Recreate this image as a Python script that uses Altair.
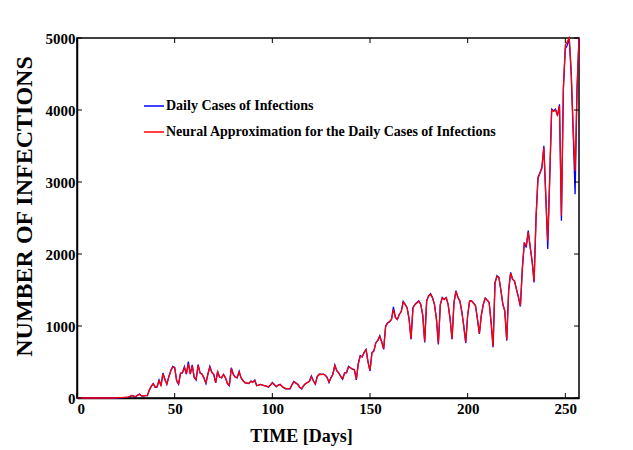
import altair as alt
import pandas as pd

series_names = ["Daily Cases of Infections",
                "Neural Approximation for the Daily Cases of Infections"]
series_colors = ["#0000ff", "#ff0000"]

x_ticks = [0, 50, 100, 150, 200, 250]
y_ticks = [0, 1000, 2000, 3000, 4000, 5000]

actual = [
    0, 0, 0, 0, 0, 0, 0, 0, 0, 0,
    0, 0, 0, 0, 0, 0, 0, 0, 0, 0,
    0, 2, 3, 5, 4, 8, 10,
    20, 35, 25, 15, 40, 55, 30, 25, 35, 30,
    110, 160, 200, 147, 150, 250, 170, 347, 260, 190,
    296, 380, 440, 425, 240, 190, 347, 350, 435, 330,
    504, 330, 460, 285, 250, 465, 350, 330, 280, 200,
    330, 440, 360, 330, 210, 370, 290, 280, 330, 280,
    200, 170, 420, 330, 290, 280, 370, 280, 240, 210,
    205, 200, 235, 220, 250, 170, 180, 190, 180, 170,
    160, 150, 180, 215, 190, 155, 180, 190, 160, 140,
    125, 130, 125, 180, 230, 210, 190, 150, 125, 170,
    200, 215, 235, 305, 240, 190, 300, 330, 330, 330,
    320, 290, 215, 280, 330, 460, 380, 350, 300, 260,
    350, 350, 440, 420, 400, 395, 250, 480, 590, 570,
    635, 675, 500, 375, 630, 655, 770, 800, 865, 780,
    675, 1000, 1045, 1060, 1090, 1265, 1120, 1090, 1160, 1200,
    1340, 1300, 1255, 1100, 815, 1255, 1300, 1325, 1350, 1300,
    1150, 770, 1350, 1420, 1450, 1395, 1300, 1100, 745, 1300,
    1395, 1370, 1395, 1300, 1100, 815, 1325, 1490, 1400, 1350,
    1200, 1000, 760, 1150, 1350, 1350, 1320, 1285, 1100, 890,
    1150, 1300, 1390, 1360, 1330, 1050, 705, 1600, 1700, 1675,
    1500, 1305, 1210, 795, 1500, 1745, 1650, 1625, 1510, 1400,
    1270, 1800, 2160, 2090, 2325, 2100, 1900, 1605, 2500, 3064,
    3130, 3200, 3504, 2800, 2070, 3050, 4013, 3990, 4013, 3920,
    4080, 2463, 4300, 4850, 4900, 5000, 4500, 3700, 2830, 4300, 5000,
]

neural = [
    0, 0, 0, 0, 0, 0, 0, 0, 0, 0,
    0, 0, 0, 0, 0, 0, 0, 0, 0, 0,
    3, 5, 4, 6, 8, 10, 12,
    22, 33, 27, 20, 38, 50, 32, 28, 33, 35,
    105, 165, 195, 150, 160, 240, 175, 335, 255, 195,
    290, 375, 430, 420, 245, 200, 340, 355, 425, 335,
    470, 335, 450, 290, 260, 455, 345, 330, 275, 210,
    330, 430, 355, 325, 215, 365, 290, 285, 325, 280,
    205, 180, 410, 330, 290, 285, 360, 280, 240, 215,
    205, 205, 230, 220, 245, 175, 180, 190, 180, 170,
    165, 155, 180, 210, 185, 160, 180, 185, 160, 145,
    130, 130, 130, 180, 225, 205, 190, 150, 130, 170,
    200, 215, 230, 295, 240, 195, 295, 330, 325, 330,
    320, 285, 220, 280, 330, 450, 375, 345, 300, 270,
    345, 355, 430, 420, 400, 390, 260, 470, 580, 575,
    630, 670, 500, 385, 625, 655, 765, 800, 855, 780,
    685, 990, 1040, 1060, 1090, 1230, 1120, 1095, 1160, 1200,
    1330, 1300, 1250, 1100, 825, 1250, 1300, 1320, 1345, 1300,
    1150, 785, 1345, 1415, 1440, 1390, 1300, 1100, 760, 1295,
    1390, 1370, 1390, 1300, 1100, 825, 1320, 1480, 1400, 1345,
    1200, 1000, 775, 1150, 1345, 1350, 1315, 1280, 1100, 900,
    1150, 1300, 1385, 1360, 1325, 1050, 720, 1600, 1690, 1670,
    1500, 1300, 1210, 810, 1500, 1735, 1650, 1620, 1505, 1400,
    1280, 1800, 2150, 2120, 2300, 2100, 1900, 1620, 2500, 3050,
    3120, 3190, 3480, 2800, 2185, 3050, 4000, 3980, 4000, 3930,
    4060, 2532, 4300, 4900, 4950, 5000, 4550, 3750, 3150, 4300, 5000,
]

days = list(range(len(actual)))
n = len(days)

df = pd.DataFrame({
    "day": days + days,
    "cases": actual + neural,
    "series": [series_names[0]] * n + [series_names[1]] * n,
})
xt_df = pd.DataFrame({"day": x_ticks})
yt_df = pd.DataFrame({"cases": y_ticks})

FONT = "Liberation Serif"
W, H = 502, 360

x_enc = alt.X("day:Q",
              scale=alt.Scale(domain=[0, 257], nice=False, zero=False),
              axis=alt.Axis(values=x_ticks, title="TIME [Days]", grid=False,
                            format="d",
                            ticks=False, labelPadding=3, labelFontSize=15,
                            titleFontSize=18, titleX=224, titleY=38,
                            titleBaseline="middle", titleAlign="center"))
y_enc = alt.Y("cases:Q",
              scale=alt.Scale(domain=[0, 5000], nice=False),
              axis=alt.Axis(values=y_ticks, title="NUMBER OF INFECTIONS",
                            grid=False, ticks=False, labelPadding=2,
                            format="d",
                            labelFontSize=15, titleFontSize=24,
                            titleX=-53, titleY=168, titleAngle=-90,
                            titleBaseline="middle", titleAlign="center"))
color_enc = alt.Color(
    "series:N",
    scale=alt.Scale(domain=series_names, range=series_colors),
    legend=alt.Legend(title=None, orient="none", legendX=66, legendY=57,
                      symbolType="stroke", symbolSize=400,
                      symbolStrokeWidth=1.5, labelFont=FONT,
                      labelFontWeight="bold", labelFontSize=14,
                      labelColor="black", rowPadding=8, labelOffset=1,
                      labelLimit=600, direction="vertical"))

base = alt.Chart(df)
blue = base.transform_filter(alt.datum.series == series_names[0]).mark_line(
    strokeWidth=1.3).encode(x=x_enc, y=y_enc, color=color_enc)
red = base.transform_filter(alt.datum.series == series_names[1]).mark_line(
    strokeWidth=1.3).encode(x=x_enc, y=y_enc, color=color_enc)

tick_bottom = alt.Chart(xt_df).mark_rule(color="black", strokeWidth=1).encode(
    x=x_enc, y=alt.value(H), y2=alt.value(H - 5))
tick_top = alt.Chart(xt_df).mark_rule(color="black", strokeWidth=1).encode(
    x=x_enc, y=alt.value(0), y2=alt.value(5))
tick_left = alt.Chart(yt_df).mark_rule(color="black", strokeWidth=1).encode(
    y=y_enc, x=alt.value(0), x2=alt.value(5))
tick_right = alt.Chart(yt_df).mark_rule(color="black", strokeWidth=1).encode(
    y=y_enc, x=alt.value(W), x2=alt.value(W - 5))

chart = alt.layer(blue, red, tick_bottom, tick_top, tick_left, tick_right).properties(
    width=W, height=H,
    padding={"left": 69, "top": 30, "right": 40, "bottom": 50},
    autosize=alt.AutoSizeParams(type="none"),
    background="white",
).configure_view(
    stroke="black", strokeWidth=1.5
).configure_axis(
    domainColor="black", domainWidth=1.5,
    labelFont=FONT, labelFontWeight="bold", labelColor="black",
    titleFont=FONT, titleFontWeight="bold", titleColor="black",
)

chart.save("out.html", embed_options={"renderer": "svg", "actions": False})
